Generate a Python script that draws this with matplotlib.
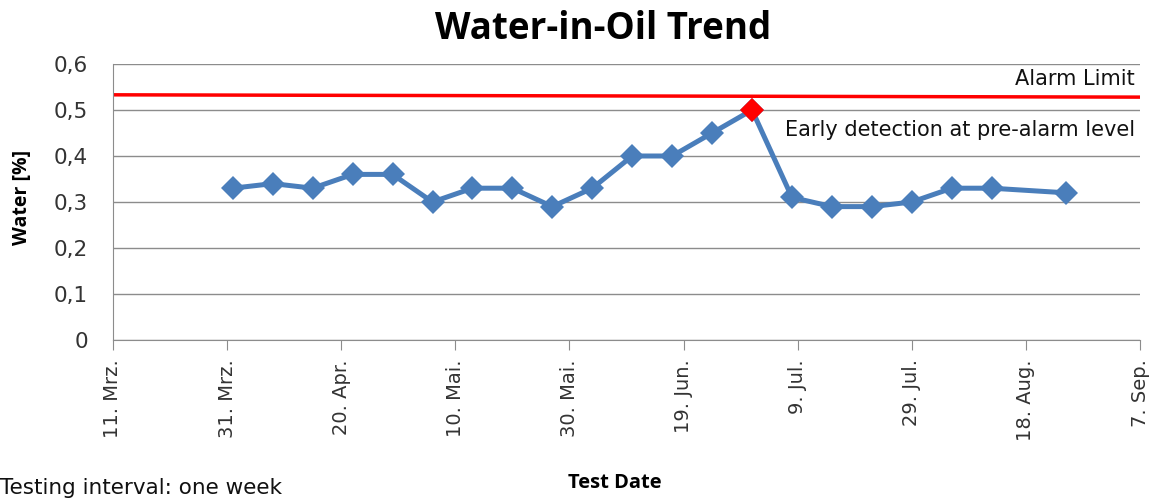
import datetime as dt
import matplotlib
matplotlib.use("Agg")
import matplotlib.pyplot as plt

# weekly water-in-oil readings (%)
test_dates = ["2013-04-01", "2013-04-08", "2013-04-15", "2013-04-22", "2013-04-29",
              "2013-05-06", "2013-05-13", "2013-05-20", "2013-05-27", "2013-06-03",
              "2013-06-10", "2013-06-17", "2013-06-24", "2013-07-01", "2013-07-08",
              "2013-07-15", "2013-07-22", "2013-07-29", "2013-08-05", "2013-08-12",
              "2013-08-25"]
water = [0.33, 0.34, 0.33, 0.36, 0.36, 0.30, 0.33, 0.33, 0.29, 0.33,
         0.40, 0.40, 0.45, 0.50, 0.31, 0.29, 0.29, 0.30, 0.33, 0.33, 0.32]
highlight_date = "2013-07-01"
highlight_value = 0.50

alarm_dates = ["2013-03-11", "2013-09-07"]
alarm_values = [0.533, 0.528]

xtick_dates = ["2013-03-11", "2013-03-31", "2013-04-20", "2013-05-10", "2013-05-30",
               "2013-06-19", "2013-07-09", "2013-07-29", "2013-08-18", "2013-09-07"]
xtick_labels = ["11. Mrz.", "31. Mrz.", "20. Apr.", "10. Mai.", "30. Mai.",
                "19. Jun.", "9. Jul.", "29. Jul.", "18. Aug.", "7. Sep."]
yticks = [0, 0.1, 0.2, 0.3, 0.4, 0.5, 0.6]
ytick_labels = ["0", "0,1", "0,2", "0,3", "0,4", "0,5", "0,6"]


def d(s):
    return dt.datetime.strptime(s, "%Y-%m-%d")


fig = plt.figure(figsize=(11.55, 4.99), dpi=100)
ax = fig.add_axes([113 / 1155, 1 - 340 / 499, 1027 / 1155, 276 / 499])

grid_col = "#8c8c8c"
ax.set_axisbelow(True)
ax.grid(axis="y", color=grid_col, linewidth=1.0)

ax.plot([d(s) for s in alarm_dates], alarm_values, color="#ff0000", linewidth=2.5,
        solid_capstyle="butt")
ax.plot([d(s) for s in test_dates], water, color="#4a7ebb", linewidth=3.6,
        marker="D", markersize=12.5, markeredgewidth=0, zorder=3)
ax.plot([d(highlight_date)], [highlight_value], linestyle="none", marker="D",
        markersize=12.5, color="#ff0000", markeredgewidth=0, zorder=4)

ax.set_xlim(d(xtick_dates[0]), d(xtick_dates[-1]))
ax.set_ylim(0, 0.6)
ax.set_xticks([d(s) for s in xtick_dates])
ax.set_xticklabels(xtick_labels, rotation=90, fontsize=14, color="#333333")
ax.set_yticks(yticks)
ax.set_yticklabels(ytick_labels, fontsize=15.5, color="#333333")
ax.tick_params(axis="x", length=7, color=grid_col, pad=7)
ax.tick_params(axis="y", length=0, pad=18)

for side in ["top", "right"]:
    ax.spines[side].set_visible(False)
ax.spines["left"].set_color(grid_col)
ax.spines["bottom"].set_color(grid_col)

ax.text(0.995, 0.545, "Alarm Limit", transform=ax.get_yaxis_transform(),
        ha="right", va="bottom", fontsize=15, color="#111111")
ax.text(0.995, 0.434, "Early detection at pre-alarm level", transform=ax.get_yaxis_transform(),
        ha="right", va="bottom", fontsize=15, color="#111111")

fig.text(603 / 1155, 1 - 29 / 499, "Water-in-Oil Trend", ha="center", va="center",
         fontsize=26.5, fontweight="bold", family="Open Sans")
fig.text(22 / 1155, 1 - 197 / 499, "Water [%]", rotation=90, ha="center", va="center",
         fontsize=14, fontweight="bold", family="Open Sans")
fig.text(615 / 1155, 1 - 483 / 499, "Test Date", ha="center", va="center",
         fontsize=14.5, fontweight="bold", family="Open Sans")
fig.text(0, 1 - 488 / 499, "Testing interval: one week", ha="left", va="center",
         fontsize=15.5, color="#111111")

fig.savefig("out.png", dpi=100)
